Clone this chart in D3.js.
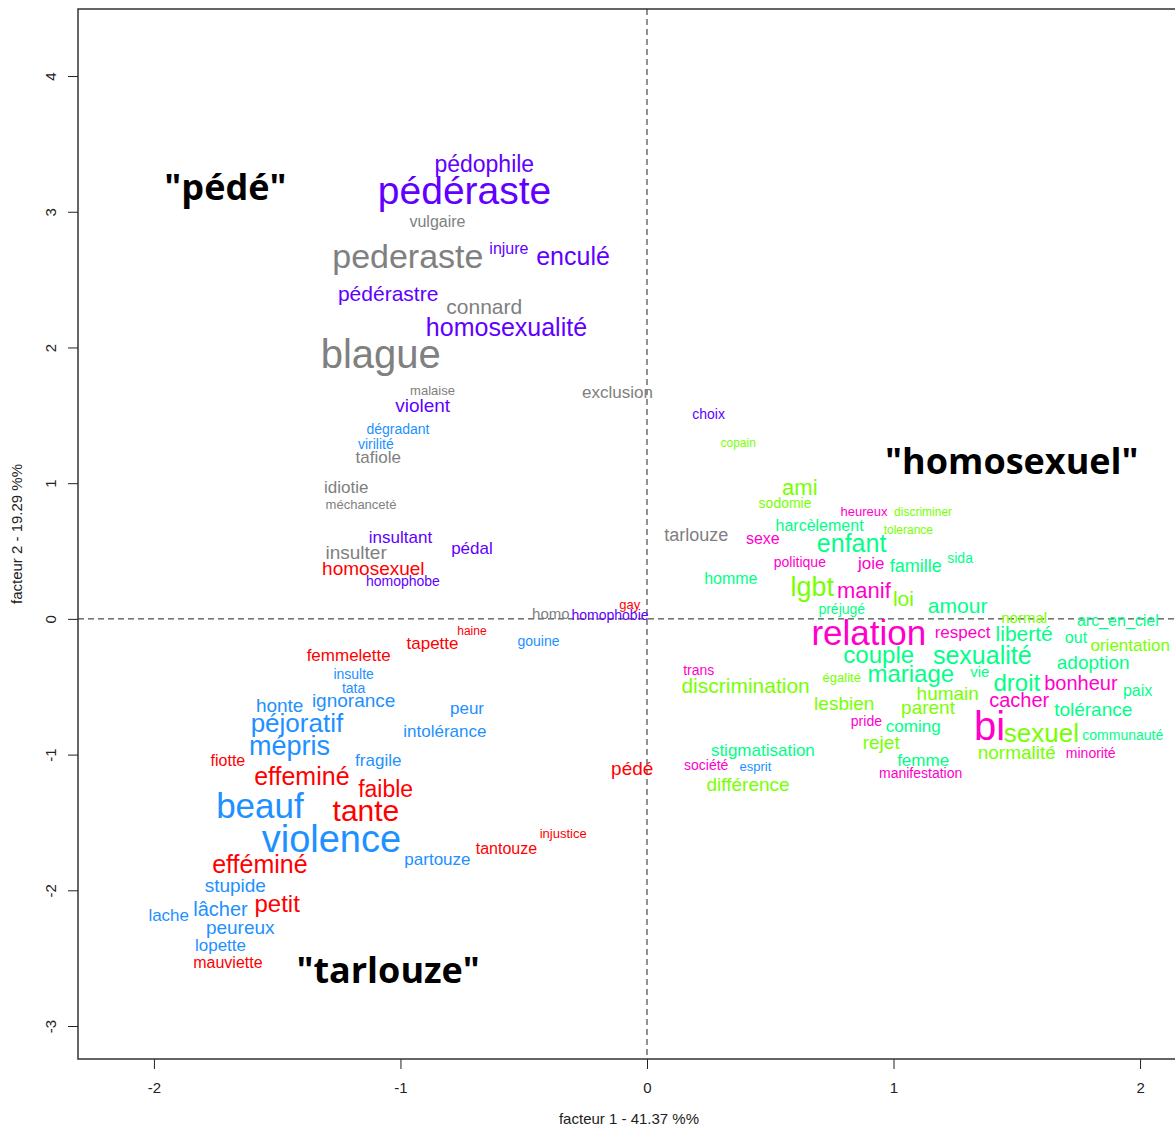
<!DOCTYPE html>
<html>
<head>
<meta charset="utf-8">
<script src="https://cdn.jsdelivr.net/npm/d3@7"></script>
<style>
  body { margin: 0; background: #fff; }
  svg { display: block; }
  .word { font-family: "Liberation Sans", Arial, sans-serif; }
  .anchor { font-family: "Open Sans", "DejaVu Sans", sans-serif; font-weight: bold; }
  .axis text { font-family: "Liberation Sans Narrow", "Liberation Sans", Arial, sans-serif; font-size: 15px; }
</style>
</head>
<body>
<div id="chart"></div>
<script>
// word, facteur 1, facteur 2, weight
const greyWords = [
  ["vulgaire", -0.85, 2.93, 16], ["pederaste", -0.97, 2.67, 34], ["connard", -0.66, 2.30, 21],
  ["blague", -1.08, 1.95, 40], ["malaise", -0.87, 1.68, 13], ["exclusion", -0.12, 1.67, 17],
  ["tafiole", -1.09, 1.19, 17], ["idiotie", -1.22, 0.97, 17], ["méchanceté", -1.16, 0.84, 13],
  ["insulter", -1.18, 0.49, 19], ["homo", -0.39, 0.04, 15], ["tarlouze", 0.20, 0.62, 18]
];
const purpleWords = [
  ["pédophile", -0.66, 3.35, 23], ["pédéraste", -0.74, 3.16, 39], ["injure", -0.56, 2.73, 16],
  ["enculé", -0.30, 2.67, 25], ["pédérastre", -1.05, 2.40, 21], ["homosexualité", -0.57, 2.15, 25],
  ["violent", -0.91, 1.57, 19], ["insultant", -1.00, 0.60, 17], ["pédal", -0.71, 0.52, 17],
  ["homophobe", -0.99, 0.28, 14], ["homophobie", -0.15, 0.03, 14], ["choix", 0.25, 1.51, 14]
];
const blueWords = [
  ["dégradant", -1.01, 1.40, 14], ["virilité", -1.10, 1.29, 14], ["gouine", -0.44, -0.16, 14],
  ["insulte", -1.19, -0.41, 14], ["tata", -1.19, -0.51, 14], ["ignorance", -1.19, -0.60, 19],
  ["honte", -1.49, -0.64, 19], ["peur", -0.73, -0.66, 17], ["péjoratif", -1.42, -0.77, 26],
  ["intolérance", -0.82, -0.83, 17], ["mépris", -1.45, -0.93, 27], ["fragile", -1.09, -1.04, 17],
  ["beauf", -1.57, -1.38, 35], ["violence", -1.28, -1.62, 38], ["partouze", -0.85, -1.77, 17],
  ["stupide", -1.67, -1.96, 19], ["lache", -1.94, -2.18, 17], ["lâcher", -1.73, -2.14, 20],
  ["peureux", -1.65, -2.27, 19], ["lopette", -1.73, -2.40, 17], ["esprit", 0.44, -1.09, 13]
];
const redWords = [
  ["homosexuel", -1.11, 0.37, 19], ["gay", -0.07, 0.11, 13], ["haine", -0.71, -0.09, 12],
  ["tapette", -0.87, -0.18, 17], ["femmelette", -1.21, -0.27, 17], ["fiotte", -1.70, -1.04, 16],
  ["pédé", -0.06, -1.10, 19], ["effeminé", -1.40, -1.16, 25], ["faible", -1.06, -1.25, 23],
  ["tante", -1.14, -1.41, 30], ["injustice", -0.34, -1.58, 13], ["tantouze", -0.57, -1.69, 16],
  ["efféminé", -1.57, -1.81, 25], ["petit", -1.50, -2.10, 24], ["mauviette", -1.70, -2.53, 16]
];
const magentaWords = [
  ["heureux", 0.88, 0.79, 13], ["sexe", 0.47, 0.59, 16], ["politique", 0.62, 0.42, 14],
  ["joie", 0.91, 0.41, 17], ["manif", 0.88, 0.21, 22], ["relation", 0.90, -0.10, 35],
  ["respect", 1.28, -0.10, 17], ["trans", 0.21, -0.38, 14], ["bonheur", 1.76, -0.47, 20],
  ["cacher", 1.51, -0.60, 20], ["pride", 0.89, -0.75, 14], ["bi", 1.39, -0.79, 40],
  ["minorité", 1.80, -0.99, 14], ["société", 0.24, -1.08, 14], ["manifestation", 1.11, -1.14, 14]
];
const springWords = [
  ["harcèlement", 0.70, 0.69, 16], ["enfant", 0.83, 0.56, 25], ["sida", 1.27, 0.45, 14],
  ["famille", 1.09, 0.39, 18], ["homme", 0.34, 0.30, 16], ["amour", 1.26, 0.10, 21],
  ["préjugé", 0.79, 0.07, 14], ["arc_en_ciel", 1.91, -0.01, 16], ["liberté", 1.53, -0.11, 21],
  ["out", 1.74, -0.14, 16], ["couple", 0.94, -0.26, 24], ["sexualité", 1.36, -0.27, 25],
  ["adoption", 1.81, -0.32, 19], ["mariage", 1.07, -0.40, 24], ["vie", 1.35, -0.39, 15],
  ["droit", 1.50, -0.47, 24], ["paix", 1.99, -0.53, 16], ["tolérance", 1.81, -0.67, 19],
  ["coming", 1.08, -0.79, 17], ["communauté", 1.93, -0.86, 14], ["stigmatisation", 0.47, -0.97, 17],
  ["femme", 1.12, -1.04, 17]
];
const limeWords = [
  ["copain", 0.37, 1.30, 12], ["ami", 0.62, 0.97, 22], ["sodomie", 0.56, 0.85, 14],
  ["discriminer", 1.12, 0.79, 12], ["tolerance", 1.06, 0.66, 12], ["lgbt", 0.67, 0.24, 27],
  ["loi", 1.04, 0.15, 21], ["normal", 1.53, 0.01, 15], ["orientation", 1.96, -0.19, 17],
  ["égalité", 0.79, -0.43, 13], ["discrimination", 0.40, -0.49, 21], ["humain", 1.22, -0.55, 19],
  ["lesbien", 0.80, -0.62, 19], ["parent", 1.14, -0.65, 19], ["sexuel", 1.60, -0.84, 26],
  ["rejet", 0.95, -0.91, 19], ["normalité", 1.50, -0.98, 19], ["différence", 0.41, -1.22, 19]
];
const anchorWords = [
  ['"pédé"', -1.71, 3.18, 36], ['"homosexuel"', 1.48, 1.16, 36], ['"tarlouze"', -1.05, -2.59, 36]
];

const groups = ["grey", "purple", "blue", "red", "magenta", "spring", "lime"];
const groupColors = ["#808080", "#6200ff", "#1e90ff", "#ff0000", "#ff00cc", "#00ff88", "#77ff00"];
const groupWords = [greyWords, purpleWords, blueWords, redWords, magentaWords, springWords, limeWords];

const xTicks = [-2, -1, 0, 1, 2];
const yTicks = [-3, -2, -1, 0, 1, 2, 3, 4];
const xTitle = "facteur  1  - 41.37 %%";
const yTitle = "facteur 2 - 19.29 %%";

const W = 1175, H = 1128;
const plot = { left: 78, right: 1180, top: 9, bottom: 1059 };

const svg = d3.select("#chart").append("svg")
  .attr("width", W)
  .attr("height", H);

const x = d3.scaleLinear().domain([-2.308, 2.162]).range([plot.left, plot.right]);
const y = d3.scaleLinear().domain([-3.243, 4.494]).range([plot.bottom, plot.top]);
const fontSize = d3.scaleLinear().domain([0, 40]).range([0, 40]);
const color = d3.scaleOrdinal().domain(groups).range(groupColors);

// axes (R style, plain hyphen minus)
svg.append("g")
  .attr("class", "axis")
  .attr("transform", `translate(0, ${plot.bottom})`)
  .call(d3.axisBottom(x).tickValues(xTicks).tickSize(10).tickPadding(13).tickFormat((d) => String(d)))
  .call((g) => g.select(".domain").remove());

svg.append("g")
  .attr("class", "axis")
  .attr("transform", `translate(${plot.left}, 0)`)
  .call(d3.axisLeft(y).tickValues(yTicks).tickSize(10).tickFormat((d) => String(d)))
  .call((g) => g.select(".domain").remove())
  .call((g) => g.selectAll(".tick text")
    .attr("dy", 0)
    .attr("transform", "rotate(-90)")
    .attr("y", -22)
    .attr("x", 0)
    .style("text-anchor", "middle"));

svg.selectAll(".axis .tick line").attr("stroke", "#222");
svg.selectAll(".axis .tick text").attr("fill", "#222");

// plot box
svg.append("rect")
  .attr("x", plot.left)
  .attr("y", plot.top)
  .attr("width", plot.right - plot.left)
  .attr("height", plot.bottom - plot.top)
  .attr("fill", "none")
  .attr("stroke", "#333")
  .attr("stroke-width", 1.5);

// zero lines
svg.append("line")
  .attr("x1", x(0)).attr("x2", x(0))
  .attr("y1", plot.top).attr("y2", plot.bottom)
  .attr("stroke", "#222").attr("stroke-dasharray", "6,4");
svg.append("line")
  .attr("x1", plot.left).attr("x2", plot.right)
  .attr("y1", y(0)).attr("y2", y(0))
  .attr("stroke", "#222").attr("stroke-dasharray", "6,4");

// axis titles
svg.append("text")
  .attr("x", (plot.left + plot.right) / 2)
  .attr("y", 1124)
  .style("text-anchor", "middle")
  .style("font-family", "'Liberation Sans Narrow', 'Liberation Sans', Arial, sans-serif")
  .style("font-size", "15px")
  .attr("fill", "#222")
  .text(xTitle);

svg.append("text")
  .attr("transform", "rotate(-90)")
  .attr("x", -(plot.top + plot.bottom) / 2)
  .attr("y", 22)
  .style("text-anchor", "middle")
  .style("font-family", "'Liberation Sans Narrow', 'Liberation Sans', Arial, sans-serif")
  .style("font-size", "15px")
  .attr("fill", "#222")
  .text(yTitle);

// words
const words = [];
groupWords.forEach((list, i) => {
  list.forEach((d) => words.push({ word: d[0], f1: d[1], f2: d[2], w: d[3], group: groups[i] }));
});

svg.append("g")
  .selectAll("text")
  .data(words)
  .enter()
  .append("text")
  .attr("class", "word")
  .attr("x", (d) => x(d.f1))
  .attr("y", (d) => y(d.f2))
  .attr("dy", "0.35em")
  .style("text-anchor", "middle")
  .style("font-size", (d) => fontSize(d.w) + "px")
  .attr("fill", (d) => color(d.group))
  .text((d) => d.word);

svg.append("g")
  .selectAll("text")
  .data(anchorWords)
  .enter()
  .append("text")
  .attr("class", "anchor")
  .attr("x", (d) => x(d[1]))
  .attr("y", (d) => y(d[2]))
  .attr("dy", "0.35em")
  .style("text-anchor", "middle")
  .style("font-size", (d) => fontSize(d[3]) + "px")
  .attr("fill", "#000")
  .text((d) => d[0]);
</script>
</body>
</html>
